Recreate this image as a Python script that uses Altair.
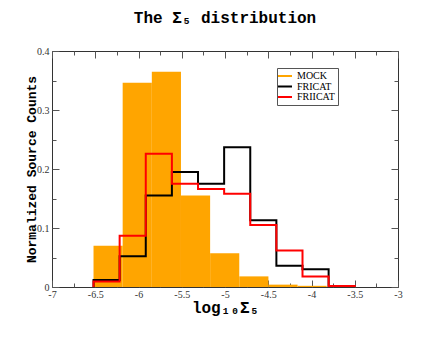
import altair as alt
import pandas as pd

# ---- data ----
mock_edges = [-6.52, -6.183, -5.846, -5.509, -5.172, -4.835, -4.498, -4.161, -3.824]
mock_vals = [0.070, 0.346, 0.365, 0.155, 0.057, 0.018, 0.004, 0.002]

fri_edges = [-6.52, -6.218, -5.916, -5.614, -5.312, -5.01, -4.708, -4.406, -4.104, -3.802]
fri_vals = [0.012, 0.052, 0.155, 0.195, 0.175, 0.237, 0.113, 0.036, 0.030]

frii_edges = [-6.52, -6.218, -5.916, -5.614, -5.312, -5.01, -4.708, -4.406, -4.104, -3.802, -3.50]
frii_vals = [0.0095, 0.087, 0.226, 0.175, 0.166, 0.158, 0.105, 0.062, 0.018, 0.0015]

series_names = ["MOCK", "FRICAT", "FRIICAT"]
series_colors = ["#FFA500", "#000000", "#FF0000"]

x_ticks = [-7, -6.75, -6.5, -6.25, -6, -5.75, -5.5, -5.25, -5, -4.75, -4.5,
           -4.25, -4, -3.75, -3.5, -3.25, -3]
y_ticks = [0, 0.05, 0.1, 0.15, 0.2, 0.25, 0.3, 0.35, 0.4]

# ---- tables ----
bars = pd.DataFrame({
    "x0": mock_edges[:-1],
    "x1": mock_edges[1:],
    "v": mock_vals,
})


def steps(name, edges, vals):
    rows = [(edges[0], 0.0)]
    for e, v in zip(edges[:-1], vals):
        rows.append((e, v))
    rows.append((edges[-1], 0.0))
    return pd.DataFrame({"x": [r[0] for r in rows], "v": [r[1] for r in rows],
                         "i": list(range(len(rows))), "s": name})


lines = pd.concat([steps("FRICAT", fri_edges, fri_vals),
                   steps("FRIICAT", frii_edges, frii_vals)], ignore_index=True)

xscale = alt.Scale(domain=[-7, -3], nice=False, zero=False)
yscale = alt.Scale(domain=[0, 0.4], nice=False)

x_major = "abs(datum.value*2-round(datum.value*2))<0.001"
y_major = "abs(datum.value*10-round(datum.value*10))<0.001"

tick_style = dict(domain=False, grid=False, tickColor="#555", tickWidth=1,
                  labelFont="Liberation Serif", labelFontSize=10, labelColor="#333",
                  labelFlush=False, labelOverlap=False)

x_bottom = alt.Axis(orient="bottom", values=x_ticks,
                    tickSize=alt.ExprRef(expr=f"{x_major} ? -7 : -4"),
                    labelExpr=f"{x_major} ? '' + datum.value : ''",
                    labelPadding=9,
                    title="log₁₀Σ₅", titleFont="Liberation Mono", titleFontSize=16,
                    titleFontWeight="bold", titleColor="#000", titleBaseline="middle",
                    titleY=20, **tick_style)
y_left = alt.Axis(orient="left", values=y_ticks,
                  tickSize=alt.ExprRef(expr=f"{y_major} ? -7 : -4"),
                  labelExpr=f"{y_major} ? '' + datum.value : ''",
                  labelPadding=10,
                  title="Normalized Source Counts", titleFont="Liberation Mono",
                  titleFontSize=13, titleFontWeight="bold", titleColor="#000",
                  titleAngle=270, titleBaseline="middle", titleAlign="center",
                  titleX=-21, titleY=118, **tick_style)
x_top = alt.Axis(orient="top", values=x_ticks, labels=False, title=None,
                 tickSize=alt.ExprRef(expr=f"{x_major} ? -7 : -4"), **tick_style)
y_right = alt.Axis(orient="right", values=y_ticks, labels=False, title=None,
                   tickSize=alt.ExprRef(expr=f"{y_major} ? -7 : -4"), **tick_style)

bar_layer = alt.Chart(bars).mark_rect(color="#FFA500").encode(
    x=alt.X("x0:Q", scale=xscale, axis=x_bottom),
    x2="x1:Q",
    y=alt.Y("v:Q", scale=yscale, axis=y_left),
    y2=alt.datum(0),
)

line_layer = alt.Chart(lines).mark_line(interpolate="step-after", strokeWidth=2).encode(
    x=alt.X("x:Q", scale=xscale, axis=x_top),
    y=alt.Y("v:Q", scale=yscale, axis=y_right),
    color=alt.Color("s:N", scale=alt.Scale(domain=series_names, range=series_colors),
                    legend=alt.Legend(title=None, orient="none", legendX=225, legendY=17,
                                      symbolType="M-2,0H2", symbolSize=49,
                                      symbolStrokeWidth=2, labelFont="Liberation Serif",
                                      labelFontSize=10, labelColor="#000",
                                      padding=3, rowPadding=0.5, labelOffset=7,
                                      strokeColor="#555", fillColor="white",
                                      values=series_names)),
    order=alt.Order("i:Q"),
)

chart = alt.layer(bar_layer, line_layer).resolve_axis(
    x="independent", y="independent"
).properties(
    width=346, height=236,
    title=alt.TitleParams("The Σ₅ distribution", font="Liberation Mono", fontSize=16,
                          fontWeight="bold", anchor="middle", color="#000", offset=20),
    autosize=alt.AutoSizeParams(type="none"),
    padding={"left": 44, "top": 43, "right": 41, "bottom": 43},
).configure_view(stroke="#333", strokeWidth=1)

chart.save("out.html", embed_options={"renderer": "svg", "actions": False})
